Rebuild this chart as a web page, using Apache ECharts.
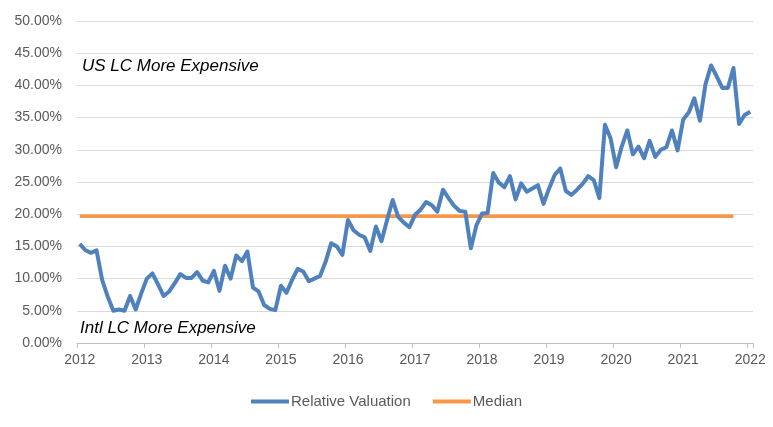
<!DOCTYPE html>
<html><head><meta charset="utf-8">
<script src="https://cdn.jsdelivr.net/npm/echarts@6/dist/echarts.min.js"></script>
<style>html,body{margin:0;padding:0;background:#fff}#c{width:773px;height:427px}</style>
</head><body><div id="c"></div>
<script>
// Monthly categories Jan 2012 .. Jan 2022
const years = [2012,2013,2014,2015,2016,2017,2018,2019,2020,2021,2022];
const relativeValuation = [
  15.4, 14.4, 14.0, 14.4, 9.8, 7.2, 5.0, 5.2, 5.0, 7.3, 5.2, 7.7,
  10.0, 10.8, 9.1, 7.3, 8.0, 9.3, 10.7, 10.1, 10.1, 11.0, 9.7, 9.4,
  11.2, 8.1, 12.0, 10.0, 13.6, 12.7, 14.2, 8.6, 8.0, 5.9, 5.3, 5.1,
  8.9, 7.8, 9.8, 11.5, 11.1, 9.6, 10.0, 10.4, 12.6, 15.5, 15.0, 13.7,
  19.1, 17.5, 16.8, 16.4, 14.3, 18.1, 15.8, 19.1, 22.2, 19.6, 18.7, 18.0,
  19.9, 20.7, 21.9, 21.4, 20.4, 23.8, 22.5, 21.3, 20.5, 20.4, 14.7, 18.3,
  20.1, 20.2, 26.4, 24.9, 24.2, 25.9, 22.3, 24.8, 23.5, 24.0, 24.5, 21.6,
  24.0, 26.1, 27.1, 23.6, 23.0, 23.8, 24.7, 25.9, 25.3, 22.5, 33.9, 31.8,
  27.3, 30.5, 33.0, 29.3, 30.5, 28.7, 31.4, 28.9, 30.0, 30.4, 33.0, 29.9,
  34.7, 35.8, 38.0, 34.5, 40.2, 43.1, 41.4, 39.6, 39.6, 42.7, 34.0, 35.4,
  35.9
];
const medianValue = 19.7;
const medianMonths = 118; // median line drawn Jan 2012 .. Oct 2021
const yTicks = [0,5,10,15,20,25,30,35,40,45,50];
const annotations = ["US LC More Expensive", "Intl LC More Expensive"];

const categories = [];
for (let i = 0; i < relativeValuation.length; i++) {
  const y = years[0] + Math.floor(i / 12);
  const m = (i % 12) + 1;
  categories.push(y + '-' + (m < 10 ? '0' + m : m));
}
const medianData = categories.map((c, i) => i < medianMonths ? medianValue : null);

const FONT = '"Liberation Sans", Arial, sans-serif';
const chart = echarts.init(document.getElementById('c'), null, {renderer: 'canvas'});
chart.setOption({
  animation: false,
  backgroundColor: '#ffffff',
  grid: {left: 77, right: 20, top: 21, bottom: 84, containLabel: false},
  xAxis: {
    type: 'category',
    data: categories,
    boundaryGap: true,
    axisLine: {lineStyle: {color: '#bfbfbf', width: 1}},
    axisTick: {show: true, interval: 11, length: 5, lineStyle: {color: '#bfbfbf'}},
    axisLabel: {
      interval: 11, margin: 10, color: '#595959', fontSize: 14, fontFamily: FONT,
      formatter: v => v.slice(0, 4)
    },
    splitLine: {show: false}
  },
  yAxis: {
    type: 'value', min: yTicks[0], max: yTicks[yTicks.length - 1], interval: 5,
    axisLine: {show: false}, axisTick: {show: false},
    axisLabel: {margin: 15, color: '#595959', fontSize: 14, fontFamily: FONT,
      formatter: v => v.toFixed(2) + '%'},
    splitLine: {lineStyle: {color: '#d9d9d9', width: 1}}
  },
  legend: {
    bottom: 13, left: 'center',
    itemWidth: 38, itemHeight: 4, itemGap: 22,
    icon: 'rect',
    textStyle: {color: '#595959', fontSize: 15, fontFamily: FONT, padding: [0,0,0,-3]},
    data: ['Relative Valuation', 'Median']
  },
  series: [
    {name: 'Relative Valuation', type: 'line', data: relativeValuation, symbol: 'none',
     lineStyle: {color: '#4f81bd', width: 4, join: 'round'}, itemStyle: {color: '#4f81bd'}, z: 3},
    {name: 'Median', type: 'line', data: medianData, symbol: 'none',
     lineStyle: {color: '#f79646', width: 3.5}, itemStyle: {color: '#f79646'}, z: 2}
  ],
  graphic: [
    {type: 'text', left: 82, top: 58, style: {text: annotations[0], fill: '#000000',
      font: 'italic 17px ' + FONT}},
    {type: 'text', left: 80, top: 320, style: {text: annotations[1], fill: '#000000',
      font: 'italic 17px ' + FONT}}
  ]
});
</script></body></html>
